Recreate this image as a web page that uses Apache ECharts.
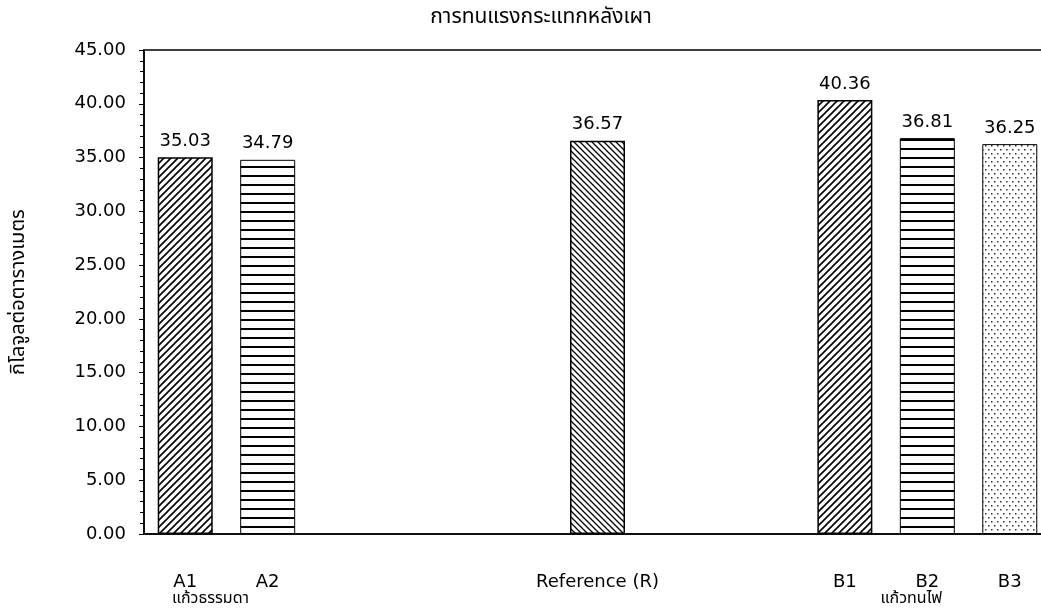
<!DOCTYPE html>
<html>
<head>
<meta charset="utf-8">
<script src="https://cdn.jsdelivr.net/npm/echarts@6/dist/echarts.min.js"></script>
<style>
  html, body { margin: 0; padding: 0; background: #fff; }
  #chart { width: 1041px; height: 609px; }
</style>
</head>
<body>
<div id="chart"></div>
<script>
// Chart text
const chartTitle = 'การทนแรงกระแทกหลังเผา';
const yAxisTitle = 'กิโลจูลต่อตารางเมตร';

// Category slots (empty slots keep the gaps between the groups)
const categories = ['A1', 'A2', '', '', '', 'Reference (R)', '', '', 'B1', 'B2', 'B3'];
// Impact resistance after firing, kJ/m²
const values = [35.03, 34.79, null, null, null, 36.57, null, null, 40.36, 36.81, 36.25];
// Fill pattern for each bar
const fills = ['slash', 'rows', null, null, null, 'backslash', null, null, 'slash', 'rows', 'dots'];

// Value axis
const yMin = 0;
const yMax = 45;
const yStep = 5;

// Glass groups printed under the category names
const groups = [
  { name: 'แก้วธรรมดา', members: ['A1', 'A2'] },
  { name: 'แก้วทนไฟ', members: ['B1', 'B2', 'B3'] }
];

const FONT = "'DejaVu Sans', 'Noto Sans', sans-serif";
const THAI_FONT = "'Noto Sans Thai', 'Noto Sans', 'DejaVu Sans', sans-serif";

// Hatch tiles drawn on small canvases and repeated inside the bars
function tile(w, h, draw) {
  const c = document.createElement('canvas');
  c.width = w; c.height = h;
  const g = c.getContext('2d');
  g.fillStyle = '#fff';
  g.fillRect(0, 0, w, h);
  g.strokeStyle = '#000';
  g.fillStyle = '#000';
  draw(g, w, h);
  return { image: c, repeat: 'repeat' };
}
const patterns = {
  slash: tile(7, 7, (g, w, h) => {
    g.lineWidth = 1.6;
    g.beginPath();
    g.moveTo(-1, h + 1); g.lineTo(w + 1, -1);
    g.moveTo(-1, 1); g.lineTo(1, -1);
    g.moveTo(w - 1, h + 1); g.lineTo(w + 1, h - 1);
    g.stroke();
  }),
  backslash: tile(6, 6, (g, w, h) => {
    g.lineWidth = 1.3;
    g.beginPath();
    g.moveTo(-1, -1); g.lineTo(w + 1, h + 1);
    g.moveTo(w - 1, -1); g.lineTo(w + 1, 1);
    g.moveTo(-1, h - 1); g.lineTo(1, h + 1);
    g.stroke();
  }),
  rows: tile(9, 9, (g, w, h) => {
    g.fillRect(0, 4, w, 2);
  }),
  dots: tile(6, 8, (g, w, h) => {
    g.fillStyle = '#333';
    g.fillRect(1, 1, 1.5, 1.5);
    g.fillRect(4, 5, 1.5, 1.5);
  })
};

const barData = values.map((v, i) => {
  if (v == null) return null;
  const p = fills[i];
  return {
    value: v,
    itemStyle: {
      color: patterns[p],
      borderColor: '#000',
      borderWidth: (p === 'slash' || p === 'backslash') ? 1.5 : 1
    }
  };
});

const chart = echarts.init(document.getElementById('chart'), null, { renderer: 'canvas' });

chart.setOption({
  animation: false,
  backgroundColor: '#fff',
  grid: {
    left: 144,
    top: 50,
    width: 907,
    height: 484,
    outerBoundsMode: 'none',
    containLabel: false,
    show: true,
    borderColor: '#000',
    borderWidth: 1.5,
    backgroundColor: 'transparent'
  },
  xAxis: {
    type: 'category',
    data: categories,
    axisLine: { lineStyle: { color: '#000', width: 1.5 } },
    axisTick: { show: false },
    axisLabel: {
      interval: 0,
      margin: 39,
      color: '#000',
      fontFamily: FONT,
      fontSize: 18
    }
  },
  yAxis: {
    type: 'value',
    min: yMin,
    max: yMax,
    interval: yStep,
    name: yAxisTitle,
    nameLocation: 'middle',
    nameRotate: 90,
    nameGap: 114,
    nameTextStyle: { fontFamily: THAI_FONT, fontSize: 20, color: '#000' },
    axisLine: { show: true, lineStyle: { color: '#000', width: 1.5 } },
    axisTick: { show: true, length: 5, lineStyle: { color: '#000' } },
    minorTick: { show: true, splitNumber: 5, length: 4, lineStyle: { color: '#000' } },
    splitLine: { show: false },
    axisLabel: {
      margin: 18,
      color: '#000',
      fontFamily: FONT,
      fontSize: 18,
      formatter: v => v.toFixed(2)
    }
  },
  series: [{
    type: 'bar',
    data: barData,
    barWidth: 55,
    label: {
      show: true,
      position: 'top',
      distance: 7,
      color: '#000',
      fontFamily: FONT,
      fontSize: 18,
      formatter: p => Number(p.value).toFixed(2)
    }
  }]
});

// Title over the plot, and group names centred a little left of their members, under the axis labels
function placeTexts() {
  const baseY = chart.convertToPixel({ yAxisIndex: 0 }, yMin);
  const topY = chart.convertToPixel({ yAxisIndex: 0 }, yMax);
  const elements = groups.map(grp => {
    const xs = grp.members.map(m => chart.convertToPixel({ xAxisIndex: 0 }, categories.indexOf(m)));
    const cx = (Math.min(...xs) + Math.max(...xs)) / 2 - 16;
    return {
      type: 'text',
      x: cx,
      y: baseY + 66,
      style: {
        text: grp.name,
        fill: '#000',
        font: '16px ' + THAI_FONT,
        textAlign: 'center',
        textVerticalAlign: 'middle'
      }
    };
  });
  elements.push({
    type: 'text',
    x: 541,
    y: topY - 31,
    style: {
      text: chartTitle,
      fill: '#000',
      font: '21px ' + THAI_FONT,
      textAlign: 'center',
      textVerticalAlign: 'middle'
    }
  });
  chart.setOption({ graphic: elements });
}
placeTexts();
</script>
</body>
</html>
